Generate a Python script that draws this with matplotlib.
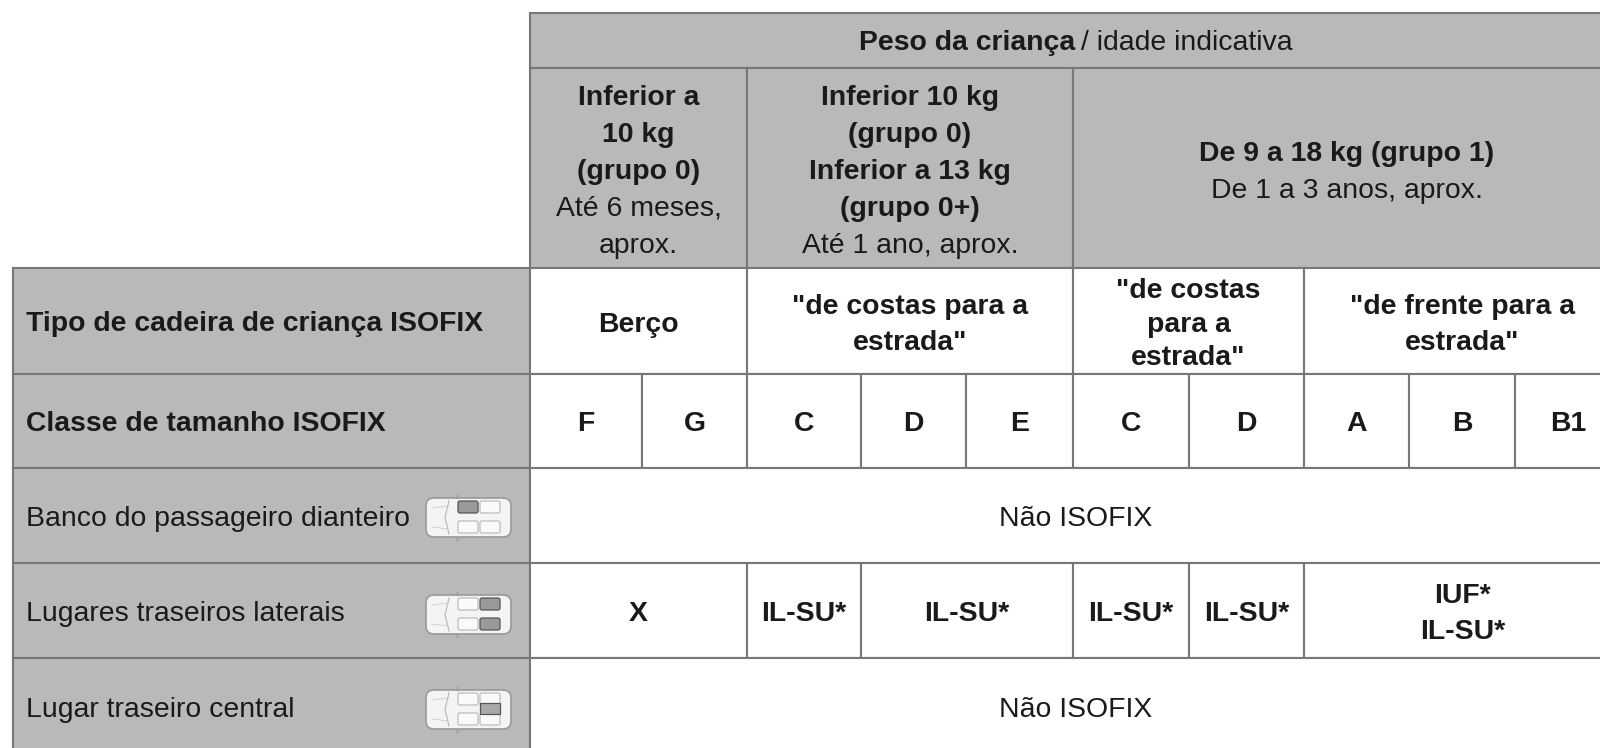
import matplotlib
matplotlib.use("Agg")
import matplotlib.pyplot as plt
from matplotlib.patches import Rectangle, FancyBboxPatch

plt.rcParams["font.family"] = ["Liberation Sans", "DejaVu Sans"]

GREY = "#b9b9b9"
LINE = "#777777"
FS = 20.4
DY = 3.5

# table content
header_top_bold = "Peso da criança"
header_top_regular = "/ idade indicativa"
weight_groups = [
    [("Inferior a", True), ("10 kg", True), ("(grupo 0)", True), ("Até 6 meses,", False), ("aprox.", False)],
    [("Inferior 10 kg", True), ("(grupo 0)", True), ("Inferior a 13 kg", True), ("(grupo 0+)", True), ("Até 1 ano, aprox.", False)],
    [("De 9 a 18 kg (grupo 1)", True), ("De 1 a 3 anos, aprox.", False)],
]
row_labels = [
    "Tipo de cadeira de criança ISOFIX",
    "Classe de tamanho ISOFIX",
    "Banco do passageiro dianteiro",
    "Lugares traseiros laterais",
    "Lugar traseiro central",
]
seat_types = [["Berço"], ['"de costas para a', 'estrada"'], ['"de costas', "para a", 'estrada"'], ['"de frente para a', 'estrada"']]
size_classes = ["F", "G", "C", "D", "E", "C", "D", "A", "B", "B1"]
side_rear = [["X"], ["IL-SU*"], ["IL-SU*"], ["IL-SU*"], ["IL-SU*"], ["IUF*", "IL-SU*"]]
no_isofix = "Não ISOFIX"
highlighted = [["front_top"], ["rear_top", "rear_bottom"], ["rear_mid"]]

# layout, pixels
col = [530, 642, 747, 861, 966, 1073, 1189, 1304, 1409, 1515, 1621]
rows = [13, 68, 268, 374, 468, 563, 658, 757]
left = 13
label_nudge = [0, 0, 1.5, 1, 0]

fig = plt.figure(figsize=(16, 7.48), dpi=100)
ax = fig.add_axes([0, 0, 1, 1])
ax.set_xlim(0, 1600)
ax.set_ylim(748, 0)
ax.axis("off")


def cell(x0, x1, y0, y1, fill="white"):
    ax.add_patch(Rectangle((x0, y0), x1 - x0, y1 - y0, fc=fill, ec=LINE, lw=1.5, zorder=1))


def lines(cx, cy, items, step):
    start = cy - step * (len(items) - 1) / 2 + DY
    for i, (txt, bold) in enumerate(items):
        ax.text(cx, start + i * step, txt, ha="center", va="center", fontsize=FS,
                fontweight="bold" if bold else "normal", color="#1a1a1a", zorder=3)


def car(x0, y0, seats):
    w, h = 85, 39
    ax.add_patch(FancyBboxPatch((x0, y0), w, h, boxstyle="round,pad=0,rounding_size=8",
                                fc="#f4f4f4", ec="#999999", lw=1.2, zorder=2))
    ax.plot([x0 + 23, x0 + 19, x0 + 23], [y0 + 3, y0 + h / 2, y0 + h - 3], color="#b5b5b5", lw=0.8, zorder=3)
    ax.plot([x0 + 6, x0 + 22], [y0 + 10, y0 + 8], color="#d0d0d0", lw=0.7, zorder=3)
    ax.plot([x0 + 6, x0 + 22], [y0 + h - 10, y0 + h - 8], color="#d0d0d0", lw=0.7, zorder=3)
    ax.plot([x0 + 31, x0 + 31], [y0 - 3, y0], color="#999999", lw=1, zorder=3)
    ax.plot([x0 + 31, x0 + 31], [y0 + h, y0 + h + 3], color="#999999", lw=1, zorder=3)
    spots = {
        "front_top": (x0 + 32, y0 + 3), "front_bottom": (x0 + 32, y0 + 23),
        "rear_top": (x0 + 54, y0 + 3), "rear_bottom": (x0 + 54, y0 + 23),
    }
    for name, (sx, sy) in spots.items():
        on = name in seats
        ax.add_patch(FancyBboxPatch((sx, sy), 20, 12, boxstyle="round,pad=0,rounding_size=2", fc="#999999" if on else "#fafafa",
                                    ec="#555555" if on else "#bdbdbd", lw=0.9, zorder=3))
    if "rear_mid" in seats:
        ax.add_patch(Rectangle((x0 + 54, y0 + 13), 20, 11, fc="#aaaaaa", ec="#555555", lw=0.9, zorder=4))


# grey header cells
cell(col[0], col[-1], rows[0], rows[1], GREY)
cell(col[0], col[2], rows[1], rows[2], GREY)
cell(col[2], col[5], rows[1], rows[2], GREY)
cell(col[5], col[-1], rows[1], rows[2], GREY)

renderer = fig.canvas.get_renderer()
t1 = ax.text(0, 0, header_top_bold, fontsize=FS, fontweight="bold", color="#1a1a1a", va="center", zorder=3)
t2 = ax.text(0, 0, header_top_regular, fontsize=FS, color="#1a1a1a", va="center", zorder=3)
w1 = t1.get_window_extent(renderer).width
w2 = t2.get_window_extent(renderer).width
gap = 6
start_x = (col[0] + col[-1]) / 2 - (w1 + w2 + gap) / 2
t1.set_position((start_x, 40 + DY - 1))
t2.set_position((start_x + w1 + gap, 40 + DY - 1))

lines((col[0] + col[2]) / 2, 168, weight_groups[0], 37)
lines((col[2] + col[5]) / 2, 168, weight_groups[1], 37)
lines((col[5] + col[-1]) / 2, 169, weight_groups[2], 37)

# row label column
for i, label in enumerate(row_labels):
    y0, y1 = rows[i + 2], rows[i + 3]
    cell(left, col[0], y0, y1, GREY)
    ax.text(26, (y0 + y1) / 2 - 1 + DY + label_nudge[i], label, ha="left", va="center", fontsize=FS,
            fontweight="bold" if i < 2 else "normal", color="#1a1a1a", zorder=3)

# seat type row
type_spans = [(0, 2), (2, 5), (5, 7), (7, 10)]
for (a, b), txt in zip(type_spans, seat_types):
    cell(col[a], col[b], rows[2], rows[3])
    step = 33.5 if len(txt) == 3 else 36
    lines((col[a] + col[b]) / 2, (rows[2] + rows[3]) / 2, [(t, True) for t in txt], step)

# size class row
for i, txt in enumerate(size_classes):
    cell(col[i], col[i + 1], rows[3], rows[4])
    lines((col[i] + col[i + 1]) / 2, (rows[3] + rows[4]) / 2 - 1, [(txt, True)], 36)

# front passenger row
cell(col[0], col[-1], rows[4], rows[5])
lines((col[0] + col[-1]) / 2, (rows[4] + rows[5]) / 2 + 0.5, [(no_isofix, False)], 36)

# rear side row
rear_spans = [(0, 2), (2, 3), (3, 5), (5, 6), (6, 7), (7, 10)]
for (a, b), txt in zip(rear_spans, side_rear):
    cell(col[a], col[b], rows[5], rows[6])
    lines((col[a] + col[b]) / 2, (rows[5] + rows[6]) / 2, [(t, True) for t in txt], 36)

# rear centre row
cell(col[0], col[-1], rows[6], rows[7])
lines((col[0] + col[-1]) / 2, (rows[6] + rows[7]) / 2 - 1, [(no_isofix, False)], 36)

for y0, seats in zip([498, 595, 690], highlighted):
    car(426, y0, seats)

fig.savefig("out.png", dpi=100)
